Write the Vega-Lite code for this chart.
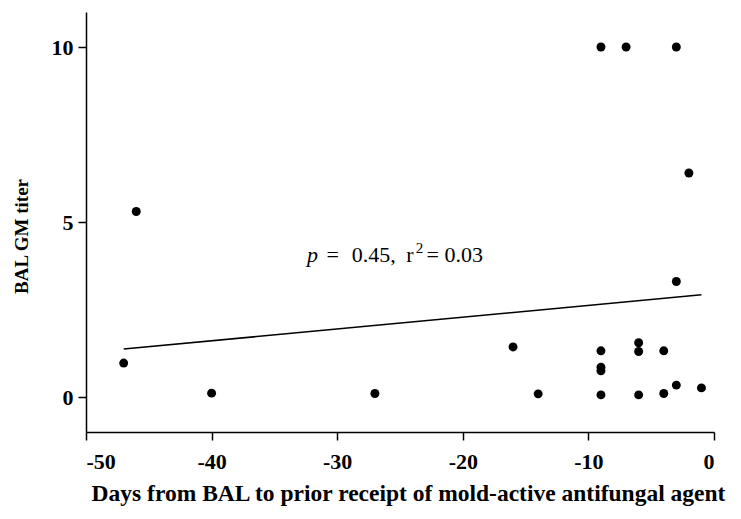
{
  "$schema": "https://vega.github.io/schema/vega-lite/v6.json",
  "width": 628,
  "height": 420,
  "autosize": {"type": "none"},
  "padding": {"left": 86, "top": 12, "right": 27, "bottom": 87},
  "background": "white",
  "config": {
    "view": {"stroke": null},
    "font": "Liberation Serif",
    "axis": {
      "domainColor": "black",
      "domainWidth": 1.5,
      "tickColor": "black",
      "tickWidth": 1.5,
      "tickSize": 8,
      "grid": false,
      "labelFont": "Liberation Serif",
      "labelFontWeight": "bold",
      "labelFontSize": 22,
      "labelColor": "black",
      "titleFont": "Liberation Serif",
      "titleFontWeight": "bold",
      "titleColor": "black"
    }
  },
  "datasets": {
    "points": [
      {"days": -47, "titer": 0.97},
      {"days": -46, "titer": 5.3},
      {"days": -40, "titer": 0.11},
      {"days": -27, "titer": 0.1},
      {"days": -16, "titer": 1.43},
      {"days": -14, "titer": 0.09},
      {"days": -9, "titer": 10},
      {"days": -7, "titer": 10},
      {"days": -3, "titer": 10},
      {"days": -2, "titer": 6.4},
      {"days": -3, "titer": 3.3},
      {"days": -9, "titer": 1.32},
      {"days": -6, "titer": 1.55},
      {"days": -6, "titer": 1.3},
      {"days": -4, "titer": 1.32},
      {"days": -9, "titer": 0.85},
      {"days": -9, "titer": 0.75},
      {"days": -9, "titer": 0.06},
      {"days": -6, "titer": 0.06},
      {"days": -4, "titer": 0.1},
      {"days": -3, "titer": 0.34},
      {"days": -1, "titer": 0.26}
    ],
    "fit": [
      {"days": -47, "titer": 1.37},
      {"days": -1, "titer": 2.92}
    ],
    "italic": [
      {"days": -32.4, "titer": 3.86, "label": "p"}
    ],
    "plain": [
      {"days": -30.85, "titer": 3.86, "label": "="},
      {"days": -28.85, "titer": 3.86, "label": "0.45,"},
      {"days": -24.5, "titer": 3.86, "label": "r"},
      {"days": -22.9, "titer": 3.86, "label": "="},
      {"days": -21.45, "titer": 3.86, "label": "0.03"}
    ],
    "sup": [
      {"days": -23.75, "titer": 4.12, "label": "2"}
    ]
  },
  "layer": [
    {
      "data": {"name": "points"},
      "mark": {"type": "point", "filled": true, "shape": "circle", "size": 80, "color": "black", "opacity": 1},
      "encoding": {
        "x": {
          "field": "days", "type": "quantitative",
          "scale": {"domain": [-50, 0], "nice": false, "zero": false},
          "axis": {
            "values": [-50, -40, -30, -20, -10, 0],
            "labelExpr": "replace(datum.label, '\u2212', '-')",
            "labelPadding": 11,
            "title": "Days from BAL to prior receipt of mold-active antifungal agent",
            "titleFontSize": 23.5,
            "titleX": 322,
            "titleY": 68,
            "titleBaseline": "alphabetic",
            "titleAnchor": "middle",
            "titleAlign": "center"
          }
        },
        "y": {
          "field": "titer", "type": "quantitative",
          "scale": {"domain": [-1, 11], "nice": false, "zero": false},
          "axis": {
            "values": [0, 5, 10],
            "labelPadding": 5,
            "title": "BAL GM titer",
            "titleFontSize": 19,
            "titleAngle": -90,
            "titleX": -65,
            "titleY": 224,
            "titleBaseline": "middle",
            "titleAlign": "center"
          }
        }
      }
    },
    {
      "data": {"name": "fit"},
      "mark": {"type": "line", "color": "black", "strokeWidth": 1.5},
      "encoding": {
        "x": {"field": "days", "type": "quantitative"},
        "y": {"field": "titer", "type": "quantitative"}
      }
    },
    {
      "data": {"name": "italic"},
      "mark": {"type": "text", "font": "Liberation Serif", "fontStyle": "italic", "fontSize": 22, "align": "left", "baseline": "alphabetic", "color": "black"},
      "encoding": {
        "x": {"field": "days", "type": "quantitative"},
        "y": {"field": "titer", "type": "quantitative"},
        "text": {"field": "label"}
      }
    },
    {
      "data": {"name": "plain"},
      "mark": {"type": "text", "font": "Liberation Serif", "fontSize": 22, "align": "left", "baseline": "alphabetic", "color": "black"},
      "encoding": {
        "x": {"field": "days", "type": "quantitative"},
        "y": {"field": "titer", "type": "quantitative"},
        "text": {"field": "label"}
      }
    },
    {
      "data": {"name": "sup"},
      "mark": {"type": "text", "font": "Liberation Serif", "fontSize": 15, "align": "left", "baseline": "alphabetic", "color": "black"},
      "encoding": {
        "x": {"field": "days", "type": "quantitative"},
        "y": {"field": "titer", "type": "quantitative"},
        "text": {"field": "label"}
      }
    }
  ]
}
